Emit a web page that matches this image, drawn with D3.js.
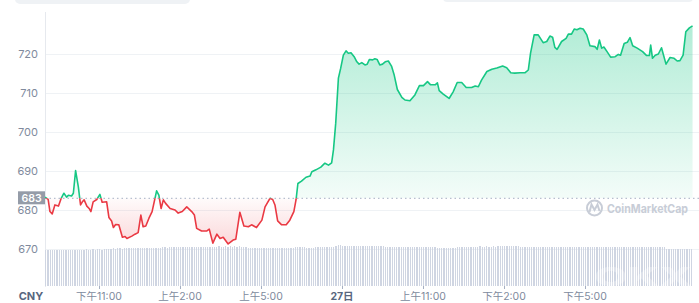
<!DOCTYPE html>
<html>
<head>
<meta charset="utf-8">
<script src="https://cdn.jsdelivr.net/npm/d3@7"></script>
<style>
  body { margin: 0; background: #fff; }
  svg { display: block; font-family: Inter, "Noto Sans CJK SC", sans-serif; }
</style>
</head>
<body>
<div id="chart"></div>
<script>
// minutes after the first point (21:00) and CNY price
const minutes = [0,7,11,16,22,30,36,42,48,52,59,63,68,74,79,83,87,93,98,102,107,115,122,127,137,142,148,152,157,164,172,178,182,193,200,207,213,218,224,231,238,248,253,258,263,268,278,289,296,305,315,326,332,337,348,359,365,373,382,389,396,407,418,424,433,442,452,459,470,482,489,500,506,511,517,526,536,544,553,558,562,570,580,589,593,602,613,622,630,637,641,646,652,657,663,669,674,680,687,693,698,704,711,716,721,728,733,738,744,750,756,763,770,776,783,793,800,811,822,832,841,850,857,867,872,876,885,898,907,916,926,936,948,956,963,970,982,993,1004,1017,1026,1035,1044,1056,1067,1074,1079,1087,1096,1107,1115,1122,1128,1133,1138,1148,1158,1163,1170,1176,1182,1189,1196,1204,1211,1222,1227,1232,1237,1242,1249,1257,1267,1274,1279,1287,1294,1300,1306,1316,1328,1337,1343,1346,1350,1356,1363,1370,1380,1389,1398,1405,1411,1418,1424,1432,1439];
const prices = [683.3,682.7,679.6,679.0,681.3,681.0,683.0,684.3,683.3,683.8,683.6,684.3,690.1,686.0,681.3,682.1,682.6,681.0,680.4,679.6,682.1,682.7,684.0,682.0,682.1,678.1,677.2,675.5,676.3,676.2,673.0,673.2,672.7,673.3,673.8,674.2,678.7,675.7,675.9,677.9,679.6,684.9,683.8,680.4,682.6,681.7,680.4,680.0,679.2,679.6,680.8,679.6,678.7,675.3,674.6,674.6,675.1,671.5,673.8,672.7,673.0,671.3,672.3,672.5,679.4,675.9,675.7,676.2,675.5,677.4,680.8,683.0,682.7,681.3,677.2,676.2,676.2,677.4,679.6,682.7,686.8,687.4,688.4,688.7,689.8,690.3,691.0,692.0,691.5,692.1,695.4,702.2,713.8,716.3,719.7,720.8,720.2,720.3,719.3,718.0,717.4,717.8,717.2,717.4,718.6,718.5,718.8,718.6,717.2,717.4,718.0,718.2,716.9,714.6,710.9,708.9,708.2,708.0,709.5,711.9,711.9,712.9,712.1,712.1,712.6,710.6,709.7,708.6,710.3,712.7,712.7,711.4,711.4,711.8,711.6,713.3,715.5,716.1,716.4,716.9,716.5,715.2,715.1,715.2,715.2,715.9,720.2,724.9,724.9,722.9,723.2,724.6,724.3,721.7,721.2,723.2,724.0,725.1,725.1,726.4,726.2,726.6,726.4,724.9,722.1,721.9,721.2,723.6,721.5,721.8,720.6,719.2,719.3,719.9,719.7,722.7,723.0,724.2,722.1,721.5,720.6,719.6,719.6,722.3,718.9,719.7,720.0,721.6,717.4,719.1,718.9,718.2,718.3,719.7,725.7,726.7,727.2];
const basePrice = 683;

// 5-minute volume bars (billions, relative)
const volumes = [
  9.0,9.0,9.05,9.0,9.0,9.05,9.0,9.05,9.05,9.0,9.05,9.05,
  9.05,9.05,9.1,9.05,9.1,9.1,9.15,9.1,9.1,9.15,9.1,9.15,
  9.15,9.1,9.15,9.2,9.15,9.35,9.4,9.35,9.4,9.4,9.35,9.4,
  9.45,9.5,9.5,9.45,9.5,9.5,9.55,9.5,9.5,9.5,9.55,9.5,
  9.5,9.55,9.5,9.6,9.65,9.65,9.6,9.65,9.7,9.65,9.65,9.7,
  9.7,9.7,9.75,9.7,9.75,9.75,9.7,9.75,9.8,9.75,9.75,9.8,
  9.8,9.85,9.85,9.8,9.85,9.9,9.85,9.85,9.9,9.85,9.9,9.85,
  9.9,9.85,9.9,9.85,9.85,9.8,9.6,9.6,9.55,9.6,9.6,9.55,
  9.6,9.55,9.6,9.6,9.55,9.6,9.6,9.55,9.6,9.6,9.55,9.6,
  9.6,9.55,9.6,9.7,9.75,9.75,9.7,9.75,9.6,9.6,9.55,9.6,
  9.8,9.85,9.85,9.8,9.85,9.85,9.85,9.8,9.85,9.9,10.25,10.2,
  10.1,10.1,10.05,10.1,10.1,10.05,10.1,10.1,10.1,10.05,10.1,10.1,
  10.1,10.05,10.1,10.1,10.05,10.1,10.0,9.8,9.75,9.75,9.7,9.75,
  9.75,9.75,9.7,9.75,9.75,9.75,9.7,9.75,9.75,9.7,9.75,9.75,
  9.75,9.7,9.75,9.75,9.7,9.75,9.55,9.5,9.5,9.5,9.45,9.5,
  9.5,9.5,9.5,9.85,9.85,9.8,9.85,9.85,9.85,9.8,9.85,9.85,
  9.85,9.9,9.85,9.85,9.9,9.85,9.85,9.9,9.85,9.9,10.0,10.0,
  10.0,10.05,10.0,10.0,10.0,10.05,10.0,9.7,9.7,9.7,9.75,9.7,
  9.7,9.7,9.75,9.7,9.7,9.7,9.7,9.75,9.7,9.7,9.7,9.7,
  9.7,9.7,9.7,9.75,9.7,9.7,9.7,9.7,9.75,9.7,9.7,9.7,
  9.7,9.7,9.7,9.7,9.7,9.75,9.7,9.85,9.85,9.85,9.8,9.85,
  9.85,9.85,9.85,9.8,9.85,9.85,9.85,9.85,9.7,9.7,9.7,9.7,
  9.7,9.7,9.75,9.7,9.7,9.7,9.7,9.7,9.75,9.7,9.7,9.7,
  9.25,9.25,9.2,9.25,9.25,9.25,9.2,9.25,9.25,9.25,9.25,9.2
];

const yTicks = [670, 680, 690, 700, 710, 720];
const xTickMinutes = [120, 300, 480, 660, 840, 1020, 1200];
const xTickLabels = ["下午11:00", "上午2:00", "上午5:00", "27日", "上午11:00", "下午2:00", "下午5:00"];

const W = 699, H = 303;
const plotLeft = 45, plotRight = 699, plotTop = 12, plotBottom = 286;
const green = "#16c784", red = "#ea3943";

const svg = d3.select("#chart").append("svg").attr("width", W).attr("height", H);

var x = d3.scaleLinear().domain([0, 1440]).range([plotLeft, 693]);
var y = d3.scaleLinear().domain([670, 720]).range([249, 54]);
var yVol = d3.scaleLinear().domain([0, 10]).range([plotBottom, 246]);

// cut-off tab shapes at the very top
svg.append("rect").attr("x", 15).attr("y", -10).attr("width", 175).attr("height", 14).attr("rx", 5).attr("fill", "#eff2f5");
svg.append("rect").attr("x", 443).attr("y", -10).attr("width", 250).attr("height", 12).attr("rx", 4).attr("fill", "#eff2f5");

// grid
svg.append("g").selectAll("line").data(yTicks).enter().append("line")
  .attr("x1", plotLeft).attr("x2", plotRight)
  .attr("y1", d => y(d) + 0.5).attr("y2", d => y(d) + 0.5)
  .attr("stroke", "#eff2f5");
svg.append("line").attr("x1", plotLeft + 0.5).attr("x2", plotLeft + 0.5).attr("y1", plotTop).attr("y2", plotBottom + 1)
  .attr("stroke", "#e6e9ee");

// y labels
svg.append("g").selectAll("text").data(yTicks).enter().append("text")
  .attr("x", 38).attr("y", d => y(d) + 4)
  .attr("text-anchor", "end").attr("font-size", 11).attr("fill", "#808a9d")
  .text(d => d);

// volume bars
var bw = x(5) - x(0);
svg.append("g").attr("shape-rendering", "crispEdges")
  .selectAll("rect").data(volumes).enter().append("rect")
  .attr("x", (d, i) => x(i * 5))
  .attr("y", d => yVol(d))
  .attr("width", bw - 0.9)
  .attr("height", d => plotBottom - yVol(d))
  .attr("fill", "#cfd5e2");

// gradients
var defs = svg.append("defs");
var gG = defs.append("linearGradient").attr("id", "gGreen").attr("gradientUnits", "userSpaceOnUse")
  .attr("x1", 0).attr("x2", 0).attr("y1", y(727)).attr("y2", y(basePrice));
gG.append("stop").attr("offset", 0).attr("stop-color", green).attr("stop-opacity", 0.33);
gG.append("stop").attr("offset", 1).attr("stop-color", green).attr("stop-opacity", 0.05);
var gR = defs.append("linearGradient").attr("id", "gRed").attr("gradientUnits", "userSpaceOnUse")
  .attr("x1", 0).attr("x2", 0).attr("y1", y(basePrice)).attr("y2", y(671));
gR.append("stop").attr("offset", 0).attr("stop-color", red).attr("stop-opacity", 0.02);
gR.append("stop").attr("offset", 1).attr("stop-color", red).attr("stop-opacity", 0.2);

defs.append("clipPath").attr("id", "above").append("rect")
  .attr("x", 0).attr("y", 0).attr("width", W).attr("height", y(basePrice));
defs.append("clipPath").attr("id", "below").append("rect")
  .attr("x", 0).attr("y", y(basePrice)).attr("width", W).attr("height", H);

var pts = minutes.map((m, i) => [m, prices[i]]);
var area = d3.area().x(d => x(d[0])).y0(y(basePrice)).y1(d => y(d[1]));
var line = d3.line().x(d => x(d[0])).y(d => y(d[1]));

svg.append("path").datum(pts).attr("d", area).attr("fill", "url(#gGreen)").attr("clip-path", "url(#above)");
svg.append("path").datum(pts).attr("d", area).attr("fill", "url(#gRed)").attr("clip-path", "url(#below)");

// baseline
svg.append("line").attr("x1", plotLeft).attr("x2", plotRight)
  .attr("y1", y(basePrice)).attr("y2", y(basePrice))
  .attr("stroke", "#a6b0c3").attr("stroke-dasharray", "1.5,3");

svg.append("path").datum(pts).attr("d", line).attr("fill", "none")
  .attr("stroke", green).attr("stroke-width", 1.6).attr("stroke-linejoin", "round")
  .attr("clip-path", "url(#above)");
svg.append("path").datum(pts).attr("d", line).attr("fill", "none")
  .attr("stroke", red).attr("stroke-width", 1.6).attr("stroke-linejoin", "round")
  .attr("clip-path", "url(#below)");

// base price tag
svg.append("rect").attr("x", 18).attr("y", y(basePrice) - 7).attr("width", 27).attr("height", 13).attr("fill", "#959ca8");
svg.append("text").attr("x", 31.5).attr("y", y(basePrice) + 3.5).attr("text-anchor", "middle")
  .attr("font-size", 10.5).attr("font-weight", 600).attr("fill", "#fff").text(basePrice);

// watermark
var wm = svg.append("g").attr("fill", "none").attr("stroke", "#c8cdd7").attr("stroke-width", 2);
wm.append("circle").attr("cx", 594.5).attr("cy", 208).attr("r", 7.5);
wm.append("path").attr("d", "M589.5,212 L591.5,204.5 L594.5,210 L597.5,204.5 L599.5,211");
svg.append("text").attr("x", 607).attr("y", 213).attr("font-size", 12).attr("font-weight", 700)
  .attr("textLength", 81).attr("lengthAdjust", "spacingAndGlyphs")
  .attr("fill", "#c8cdd7").text("CoinMarketCap");

svg.append("text").attr("x", 594).attr("y", 286).attr("font-size", 26).attr("font-weight", 800)
  .attr("textLength", 98).attr("lengthAdjust", "spacingAndGlyphs")
  .attr("fill", "#fff").attr("opacity", 0.3).text("OKX");

// x axis
svg.append("g").selectAll("line").data(xTickMinutes).enter().append("line")
  .attr("x1", d => x(d) + 0.5).attr("x2", d => x(d) + 0.5)
  .attr("y1", plotBottom).attr("y2", plotBottom + 3).attr("stroke", "#a6b0c3");
svg.append("g").selectAll("text").data(xTickMinutes).enter().append("text")
  .attr("x", d => x(d)).attr("y", 300).attr("text-anchor", "middle")
  .attr("font-size", 10.5)
  .attr("font-weight", (d, i) => xTickLabels[i] === "27日" ? 700 : 400)
  .attr("fill", (d, i) => xTickLabels[i] === "27日" ? "#58667e" : "#808a9d")
  .text((d, i) => xTickLabels[i]);
svg.append("text").attr("x", 31).attr("y", 300).attr("text-anchor", "middle")
  .attr("font-size", 11).attr("font-weight", 700).attr("fill", "#58667e").text("CNY");
</script>
</body>
</html>
